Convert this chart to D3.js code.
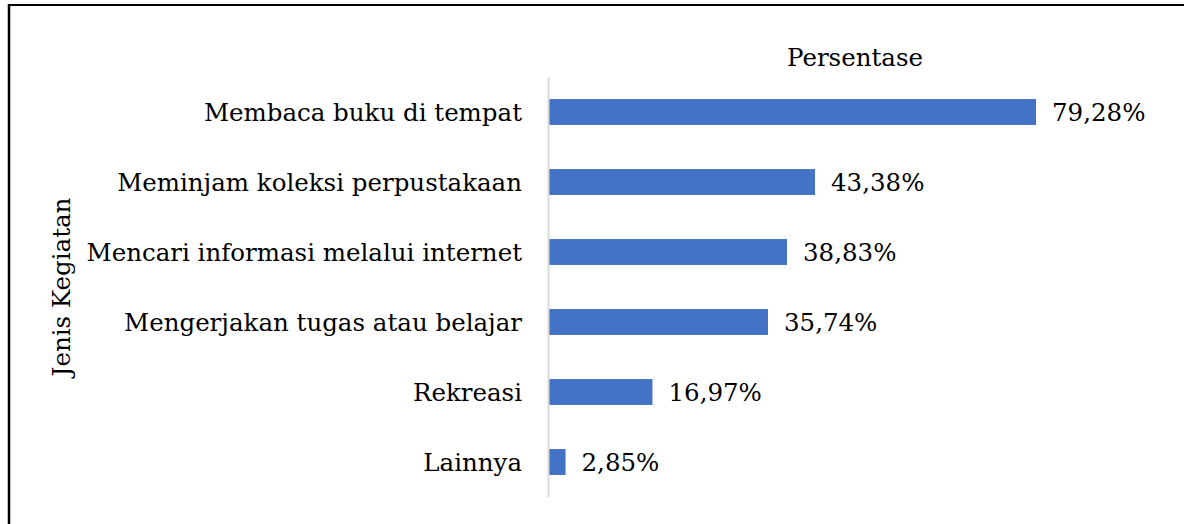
<!DOCTYPE html>
<html>
<head>
<meta charset="utf-8">
<script src="https://cdn.jsdelivr.net/npm/d3@7"></script>
<style>
  body { margin: 0; background: #fff; }
  svg text { font-family: "DejaVu Serif", serif; fill: #000; }
</style>
</head>
<body>
<div id="chart"></div>
<script>
// chart data
const categories = [
  "Membaca buku di tempat",
  "Meminjam koleksi perpustakaan",
  "Mencari informasi melalui internet",
  "Mengerjakan tugas atau belajar",
  "Rekreasi",
  "Lainnya"
];
const values = [79.28, 43.38, 38.83, 35.74, 16.97, 2.85];
const valueLabels = ["79,28%", "43,38%", "38,83%", "35,74%", "16,97%", "2,85%"];

const width = 1184;
const height = 524;
const margin = {left: 548, right: 50, top: 77, bottom: 27};
const fontSize = "24.5px";

const svg = d3.select("#chart")
  .append("svg")
  .attr("width", width)
  .attr("height", height);

// outer frame (only top and left edges are visible in the crop)
svg.append("line")
  .attr("x1", 9).attr("x2", width).attr("y1", 5).attr("y2", 5)
  .attr("stroke", "#000").attr("stroke-width", 2);
svg.append("line")
  .attr("x1", 9).attr("x2", 9).attr("y1", 4).attr("y2", height)
  .attr("stroke", "#000").attr("stroke-width", 2.5);

// scales
const xScale = d3.scaleLinear()
  .domain([0, 79.28])
  .range([margin.left, 1036]);

const yScale = d3.scaleBand()
  .domain(categories)
  .range([margin.top, height - margin.bottom])
  .paddingInner(0.63)
  .paddingOuter(0.315);

// bars
svg.selectAll(".bar")
  .data(values)
  .enter()
  .append("rect")
    .attr("class", "bar")
    .attr("x", xScale(0))
    .attr("y", (d, i) => yScale(categories[i]))
    .attr("width", d => xScale(d) - xScale(0))
    .attr("height", yScale.bandwidth())
    .attr("fill", "#4472c4");

// vertical axis line + category labels
const yAxis = svg.append("g")
  .attr("transform", `translate(${margin.left}, 0)`)
  .call(d3.axisLeft(yScale).tickSize(0).tickPadding(26));
yAxis.select(".domain").attr("stroke", "#d9d9d9").attr("stroke-width", 2);
yAxis.selectAll("text")
  .attr("font-size", fontSize)
  .attr("dy", "0.35em");

// value labels
svg.selectAll(".val")
  .data(values)
  .enter()
  .append("text")
    .attr("class", "val")
    .attr("x", d => xScale(d) + 16)
    .attr("y", (d, i) => yScale(categories[i]) + yScale.bandwidth() / 2)
    .attr("dy", "0.35em")
    .attr("font-size", fontSize)
    .text((d, i) => valueLabels[i]);

// axis titles
svg.append("text")
  .attr("x", 855)
  .attr("y", 57)
  .attr("dy", "0.35em")
  .attr("text-anchor", "middle")
  .attr("font-size", fontSize)
  .text("Persentase");

svg.append("text")
  .attr("transform", "translate(61, 287) rotate(-90)")
  .attr("dy", "0.35em")
  .attr("text-anchor", "middle")
  .attr("font-size", fontSize)
  .text("Jenis Kegiatan");
</script>
</body>
</html>
